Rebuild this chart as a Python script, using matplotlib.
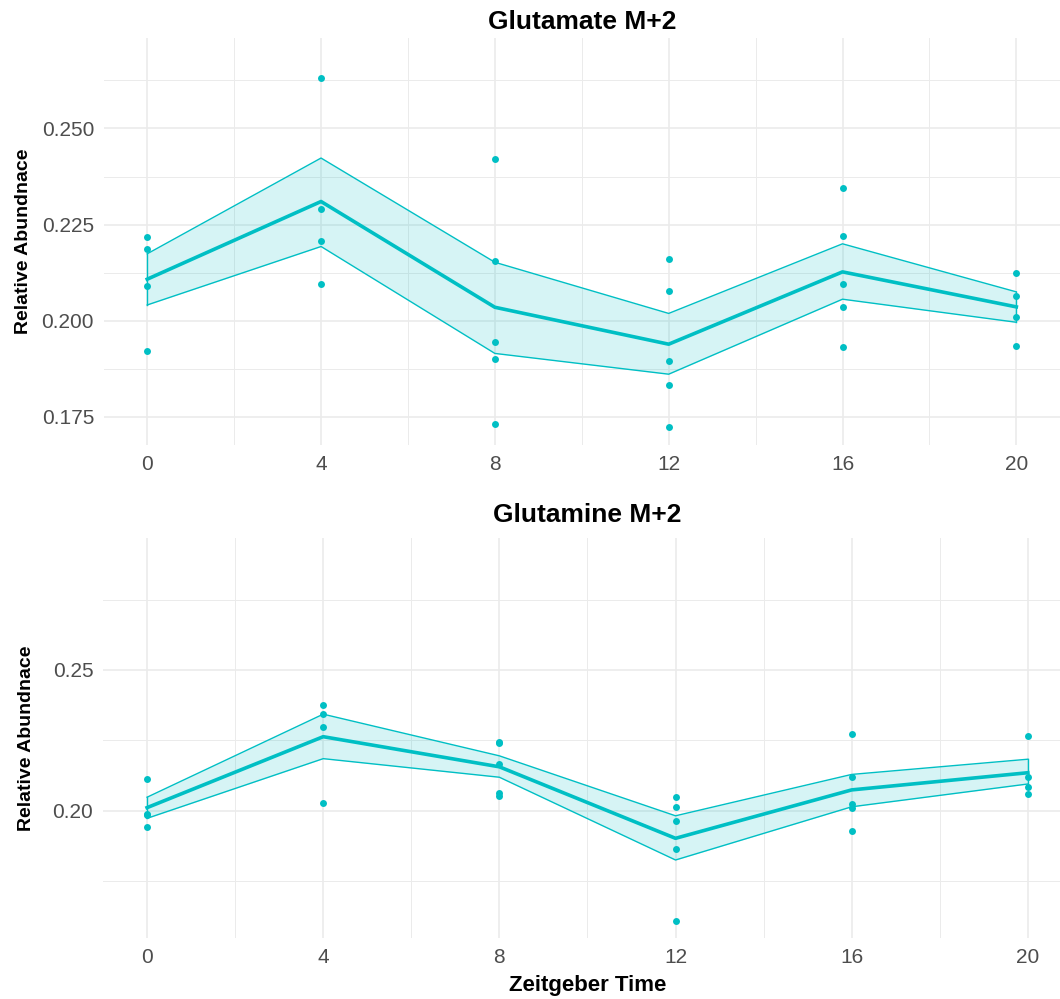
import numpy as np
import matplotlib.pyplot as plt

# Zeitgeber time points
zt = [0, 4, 8, 12, 16, 20]

# Glutamate M+2: replicate points, mean line and ribbon
glu_pts = [
    [0.2217, 0.2187, 0.2091, 0.1922],
    [0.2631, 0.2290, 0.2207, 0.2096],
    [0.2421, 0.2155, 0.1944, 0.1900, 0.1732],
    [0.2160, 0.2077, 0.1895, 0.1833, 0.1723],
    [0.2344, 0.2220, 0.2095, 0.2036, 0.1932],
    [0.2124, 0.2063, 0.2009, 0.1934],
]
glu_mean = [0.2108, 0.2310, 0.2035, 0.1939, 0.2127, 0.2036]
glu_upper = [0.2174, 0.2423, 0.2152, 0.2019, 0.2200, 0.2075]
glu_lower = [0.2041, 0.2193, 0.1915, 0.1861, 0.2056, 0.1996]

# Glutamine M+2
gln_pts = [
    [0.2114, 0.1988, 0.1985, 0.1943],
    [0.2376, 0.2344, 0.2299, 0.2027],
    [0.2245, 0.2240, 0.2165, 0.2062, 0.2052],
    [0.2049, 0.2013, 0.1962, 0.1863, 0.1609],
    [0.2272, 0.2120, 0.2023, 0.2009, 0.1929],
    [0.2267, 0.2121, 0.2085, 0.2060],
]
gln_mean = [0.2011, 0.2263, 0.2156, 0.1902, 0.2074, 0.2135]
gln_upper = [0.2048, 0.2343, 0.2195, 0.1982, 0.2129, 0.2183]
gln_lower = [0.1973, 0.2185, 0.2119, 0.1825, 0.2014, 0.2095]

teal = '#00BFC4'
grid_col = '#ebebeb'

plt.rcParams['font.family'] = ['Liberation Sans', 'DejaVu Sans']

fig = plt.figure(figsize=(10.6, 9.99), dpi=100)
ax1 = fig.add_axes([0.0979, 0.5546, 0.9019, 0.4077])
ax2 = fig.add_axes([0.0972, 0.0608, 0.9140, 0.4010])


def draw_panel(ax, pts, mean, lower, upper, title, ylim, yticks, yminor, fmt,
               title_pad, ylab_pad):
    ax.fill_between(zt, lower, upper, color=teal, alpha=0.16, linewidth=0, zorder=2)
    ax.plot(zt, upper, color=teal, linewidth=1.0, zorder=3)
    ax.plot(zt, lower, color=teal, linewidth=1.0, zorder=3)
    ax.plot([zt[0], zt[0]], [lower[0], upper[0]], color=teal, linewidth=1.0, zorder=3)
    ax.plot([zt[-1], zt[-1]], [lower[-1], upper[-1]], color=teal, linewidth=1.0, zorder=3)
    ax.plot(zt, mean, color=teal, linewidth=2.6, zorder=4)
    for t, p in zip(zt, pts):
        ax.scatter([t] * len(p), p, s=25, color=teal, linewidths=0, zorder=5)

    ax.set_xlim(-1, 21)
    ax.set_ylim(*ylim)
    ax.set_xticks(zt)
    ax.set_xticks([2, 6, 10, 14, 18], minor=True)
    ax.set_yticks(yticks)
    ax.set_yticklabels([fmt % v for v in yticks])
    ax.set_yticks(yminor, minor=True)
    ax.grid(which='major', color=grid_col, linewidth=1.2, zorder=0)
    ax.grid(which='minor', color=grid_col, linewidth=0.7, zorder=0)
    ax.set_axisbelow(True)
    for s in ax.spines.values():
        s.set_visible(False)
    ax.tick_params(which='both', length=0)
    ax.tick_params(axis='both', labelsize=15, labelcolor='#4d4d4d', pad=7)
    ax.set_title(title, fontsize=19, fontweight='bold', pad=title_pad)
    ax.set_ylabel('Relative Abundnace', fontsize=14, fontweight='bold', labelpad=ylab_pad)


draw_panel(ax1, glu_pts, glu_mean, glu_lower, glu_upper, 'Glutamate M+2',
           (0.1677, 0.2736), [0.175, 0.2, 0.225, 0.25],
           [0.1875, 0.2125, 0.2375, 0.2625], '%.3f', 6, 7)
draw_panel(ax2, gln_pts, gln_mean, gln_lower, gln_upper, 'Glutamine M+2',
           (0.1547, 0.2970), [0.20, 0.25],
           [0.175, 0.225, 0.275], '%.2f', 11, 13)
ax2.set_xlabel('Zeitgeber Time', fontsize=16, fontweight='bold', labelpad=6)

fig.savefig('out.png', dpi=100)
